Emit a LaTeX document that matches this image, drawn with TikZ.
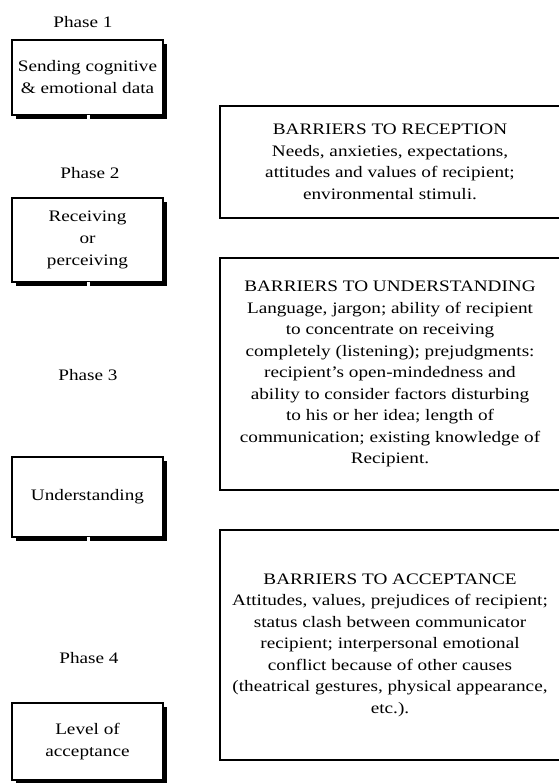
\documentclass[tikz,border=0pt]{standalone}
\usepackage{fontspec}
\setmainfont[FakeStretch=1.2]{Liberation Serif}
\usetikzlibrary{shadows}
\begin{document}
\begin{tikzpicture}[x=1pt,y=-1pt,
  every node/.style={font=\fontsize{16}{22}\selectfont},
  phase/.style={inner sep=0pt},
  stagebox/.style={draw, line width=1.2pt, fill=white, minimum width=151pt, align=center, inner sep=2pt,
    drop shadow={shadow xshift=4pt, shadow yshift=-4pt, fill=black, opacity=1}},
  barrier/.style={draw, line width=1.5pt, minimum width=340pt, align=center, inner sep=2pt,
    font=\fontsize{16}{21.5}\selectfont},
  gapline/.style={white, line width=2.5pt}]
\fill[white] (0,0) rectangle (558,783);
\useasboundingbox (0,0) rectangle (558,783);

% phase labels
\node[phase] (p1) at (83,22) {Phase 1};
\node[phase] (p2) at (90,173) {Phase 2};
\node[phase] (p3) at (88,375) {Phase 3};
\node[phase] (p4) at (89,658) {Phase 4};

% stage boxes
\node[stagebox, minimum height=75pt] (b1) at (87.5,77.5) {Sending cognitive\\\& emotional data};
\node[stagebox, minimum height=84pt] (b2) at (87.5,240) {Receiving\\or\\perceiving};
\node[stagebox, minimum height=80pt] (b3) at (87.5,497) {\raisebox{-6pt}{Understanding}};
\node[stagebox, minimum height=77pt] (b4) at (87.5,741.5) {Level of\\acceptance};

% small white cuts in the bottom shadows
\foreach \b in {b1,b2,b3}{
  \draw[gapline] ([xshift=1pt]\b.south) ++(0,-1) -- ++(0,7);
}

% barrier boxes
\node[barrier, minimum height=112pt] (r1) at (390,162)
  {BARRIERS TO RECEPTION\\Needs, anxieties, expectations,\\attitudes and values of recipient;\\environmental stimuli.};
\node[barrier, minimum height=232pt] (r2) at (390,374)
  {BARRIERS TO UNDERSTANDING\\Language, jargon; ability of recipient\\to concentrate on receiving\\completely (listening); prejudgments:\\recipient's open-mindedness and\\ability to consider factors disturbing\\to his or her idea; length of\\communication; existing knowledge of\\Recipient.};
\node[barrier, minimum height=230pt] (r3) at (390,645)
  {BARRIERS TO ACCEPTANCE\\Attitudes, values, prejudices of recipient;\\status clash between communicator\\recipient; interpersonal emotional\\conflict because of other causes\\(theatrical gestures, physical appearance,\\etc.).};
\end{tikzpicture}
\end{document}
